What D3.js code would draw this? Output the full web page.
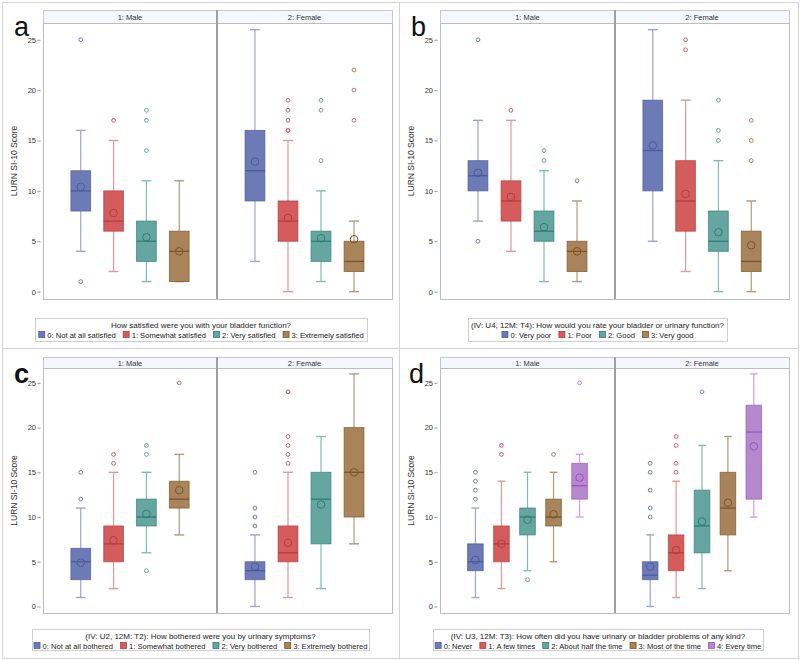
<!DOCTYPE html>
<html><head><meta charset="utf-8">
<script src="https://cdn.jsdelivr.net/npm/d3@7"></script>
<style>
body{margin:0;background:#fff;}
text{font-family:"Liberation Sans",Arial,sans-serif;}
</style></head>
<body><svg id="chart" width="800" height="660"></svg>
<script>
// ---------------- DATA ----------------
const facets = ["1: Male", "2: Female"];
const yTicks = [0, 5, 10, 15, 20, 25];
const colorsFill = ["#6c7bb5", "#d45c5c", "#66a6a0", "#a9845a", "#b689cd"];
const colorsLine = ["#4a5a9c", "#b53d3d", "#2d7d76", "#7a5527", "#9c52c8"];
const colorsWhisk = ["#9aa4d2", "#e09898", "#80bcb6", "#b09a7c", "#d09ef0"];

// box stats: [lowWhisker, q1, median, q3, highWhisker, mean]
const catsA = ["0: Not at all satisfied", "1: Somewhat satisfied", "2: Very satisfied", "3: Extremely satisfied"];
const titleA = "How satisfied  were you with your bladder function?";
const statsA_M = [[4,8,10,12,16,10.4],[2,6,7,10,15,7.8],[1,3,5,7,11,5.4],[1,1,4,6,11,4.0]];
const outA_M = [[25,1],[17],[14,17,18],[]];
const statsA_F = [[3,9,12,16,26,12.9],[0,5,7,9,15,7.3],[1,3,5,6,10,5.3],[0,2,3,5,7,5.2]];
const outA_F = [[],[16,16,17,18,19],[13,18,19],[17,20,22]];

const catsB = ["0: Very poor", "1: Poor", "2: Good", "3: Very good"];
const titleB = "(IV: U4, 12M: T4): How would you rate your bladder or urinary function?";
const statsB_M = [[7,10,11.5,13,17,11.8],[4,7,9,11,17,9.4],[1,5,6,8,12,6.4],[1,2,4,5,9,4.0]];
const outB_M = [[25,5],[18],[13,14],[11]];
const statsB_F = [[5,10,14,19,26,14.5],[2,6,9,13,19,9.7],[0,4,5,8,13,5.9],[0,2,3,6,9,4.6]];
const outB_F = [[],[24,25],[15,16,19],[13,15,17]];

const catsC = ["0: Not at all bothered", "1: Somewhat bothered", "2: Very bothered", "3: Extremely bothered"];
const titleC = "(IV: U2, 12M: T2): How bothered were you by urinary symptoms?";
const statsC_M = [[1,3,5,6.5,11,4.9],[2,5,7,9,15,7.4],[6,9,10,12,15,10.35],[8,11,12,14,17,13.0]];
const outC_M = [[12,15],[16,17],[4,17,18],[25]];
const statsC_F = [[0,3,4,5,8,4.45],[1,5,6,9,15,7.1],[2,7,12,15,19,11.4],[7,10,15,20,26,15.0]];
const outC_F = [[9,10,11,15],[16,17,18,19,24],[],[]];

const catsD = ["0: Never", "1: A few times", "2: About half the time", "3: Most of the time", "4: Every time"];
const titleD = "(IV: U3, 12M: T3): How often did you have urinary or bladder problems of any kind?";
const statsD_M = [[1,4,5,7,11,5.2],[2,5,7,9,14,7.0],[4,8,10,11,15,9.7],[5,9,10,12,15,10.3],[10,12,13.5,16,17,14.4]];
const outD_M = [[12,13,14,15],[17,18],[3],[17],[25]];
const statsD_F = [[0,3,3.5,5,8,4.45],[1,4,6,8,14,6.3],[2,6,9,13,18,9.5],[4,8,11,15,19,11.6],[10,12,19.5,22.5,26,17.9]];
const outD_F = [[10,11,13,15,16],[15,16,18,19],[24],[],[]];

// ---------------- DRAWING ----------------
const svg = d3.select("#chart");
const yDomain = [-0.73, 26.66];

// panel frames
const frames = [[2,2,397,346],[399,2,399,346],[2,348,397,310],[399,348,399,310]];
svg.selectAll("rect.frame").data(frames).enter().append("rect")
  .attr("x", d=>d[0]+0.5).attr("y", d=>d[1]+0.5).attr("width", d=>d[2]).attr("height", d=>d[3])
  .attr("fill","none").attr("stroke","#d4d4d4").attr("stroke-width",1);

function drawPanel(L, cats, title, stats, outs, letter, bold) {
  const g = svg.append("g");
  const y = d3.scaleLinear().domain(yDomain).range([L.bottom, L.top]);
  const n = cats.length;
  const pad = n === 4 ? 1.15 : 1.36;

  // header strips
  const fx = [[L.left, L.mid], [L.mid, L.right]];
  fx.forEach((r, i) => {
    g.append("rect").attr("x", r[0]+0.5).attr("y", L.htop+0.5).attr("width", r[1]-r[0]).attr("height", L.top-L.htop)
      .attr("fill", "#f4f7fd").attr("stroke", "#c8c8c8");
    g.append("text").attr("x", (r[0]+r[1])/2).attr("y", L.htop + (L.top-L.htop)/2 + 3)
      .attr("text-anchor","middle").attr("font-size", 7.5).attr("fill","#333").text(facets[i]);
  });
  // plot frame
  g.append("rect").attr("x", L.left+0.5).attr("y", L.top+0.5).attr("width", L.right-L.left).attr("height", L.bottom-L.top)
    .attr("fill","#fff").attr("stroke","#bdbdbd");
  g.append("line").attr("x1", L.mid).attr("x2", L.mid).attr("y1", L.htop).attr("y2", L.bottom)
    .attr("stroke","#a0a0a0").attr("stroke-width",2);

  // y axis
  const ax = g.append("g").attr("transform", `translate(${L.left-2.5},0)`)
    .call(d3.axisLeft(y).tickValues(yTicks).tickSize(3).tickPadding(1.5));
  ax.select(".domain").remove();
  ax.selectAll(".tick line").attr("stroke","#999");
  ax.selectAll(".tick text").attr("font-size",7.5).attr("fill","#333").attr("font-family","Liberation Sans, Arial, sans-serif");
  g.append("text").attr("transform", `translate(${L.ylabX},${(L.top+L.bottom)/2}) rotate(-90)`)
    .attr("text-anchor","middle").attr("font-size",8.5).attr("fill","#333").text("LURN SI-10 Score");

  // panel letter
  g.append("text").attr("x", L.letX).attr("y", L.letY).attr("font-size", 27)
    .attr("font-weight", bold ? "bold" : "normal").attr("fill","#111").text(letter);

  // boxes
  [0,1].forEach(fi => {
    const x = d3.scalePoint().domain(cats).range(fx[fi]).padding(pad);
    const bw = x.step() * 0.6;
    const cw = bw * 0.5;
    cats.forEach((c, ci) => {
      const s = stats[fi][ci];
      const cx = x(c);
      const wc = colorsWhisk[ci], lc = colorsLine[ci], fc = colorsFill[ci];
      const bg = g.append("g");
      // whiskers
      bg.append("line").attr("x1",cx).attr("x2",cx).attr("y1",y(s[0])).attr("y2",y(s[1])).attr("stroke",wc).attr("stroke-width",1.2);
      bg.append("line").attr("x1",cx).attr("x2",cx).attr("y1",y(s[3])).attr("y2",y(s[4])).attr("stroke",wc).attr("stroke-width",1.2);
      bg.append("line").attr("x1",cx-cw/2).attr("x2",cx+cw/2).attr("y1",y(s[0])).attr("y2",y(s[0])).attr("stroke",wc).attr("stroke-width",1.4);
      bg.append("line").attr("x1",cx-cw/2).attr("x2",cx+cw/2).attr("y1",y(s[4])).attr("y2",y(s[4])).attr("stroke",wc).attr("stroke-width",1.4);
      // box
      bg.append("rect").attr("x",cx-bw/2).attr("y",y(s[3])).attr("width",bw).attr("height",Math.max(0.5,y(s[1])-y(s[3])))
        .attr("fill",fc).attr("stroke",lc).attr("stroke-opacity",0.7).attr("stroke-width",1);
      // median
      bg.append("line").attr("x1",cx-bw/2).attr("x2",cx+bw/2).attr("y1",y(s[2])).attr("y2",y(s[2])).attr("stroke",lc).attr("stroke-width",1.3);
      // mean
      bg.append("circle").attr("cx",cx).attr("cy",y(s[5])).attr("r",3.8).attr("fill","none").attr("stroke",lc).attr("stroke-width",1);
      // outliers
      bg.selectAll("circle.out").data(outs[fi][ci]).enter().append("circle").attr("class","out")
        .attr("cx",cx).attr("cy",d=>y(d)).attr("r",1.9).attr("fill","none").attr("stroke",fc).attr("stroke-width",1);
    });
  });

  // legend
  const lg = g.append("g");
  lg.append("rect").attr("x",L.lx0+0.5).attr("y",L.ly0+0.5).attr("width",L.lx1-L.lx0).attr("height",L.lh)
    .attr("fill","#fff").attr("stroke","#cfcfcf");
  lg.append("text").attr("x",(L.lx0+L.lx1)/2).attr("y",L.ly0+9.5).attr("text-anchor","middle")
    .attr("font-size",8).attr("fill","#222").text(title);
  const items = lg.append("g");
  let cx = 0;
  cats.forEach((c, ci) => {
    items.append("rect").attr("x",cx+0.5).attr("y",L.ly0+13.5).attr("width",6).attr("height",6)
      .attr("fill",colorsFill[ci]).attr("stroke",colorsLine[ci]).attr("stroke-width",0.8);
    const t = items.append("text").attr("x",cx+9).attr("y",L.ly0+19.5).attr("font-size",7.6).attr("fill","#222").text(c);
    cx += 9 + t.node().getComputedTextLength() + 7;
  });
  const tw = cx - 7;
  items.attr("transform",`translate(${(L.lx0+L.lx1)/2 - tw/2},0)`);
}

const LA = {left:43,right:392,mid:217,htop:10,top:23,bottom:299,ylabX:17,letX:14,letY:36,lx0:35,lx1:367,ly0:318,lh:23};
const LB = {left:440,right:789,mid:615,htop:10,top:23,bottom:299,ylabX:414,letX:411,letY:36,lx0:468,lx1:727,ly0:318,lh:23};
const LC = {left:43,right:392,mid:217,htop:357,top:368,bottom:613,ylabX:17,letX:14,letY:383,lx0:32,lx1:369,ly0:629,lh:21};
const LD = {left:440,right:789,mid:615,htop:357,top:368,bottom:613,ylabX:414,letX:409,letY:383,lx0:433,lx1:763,ly0:629,lh:21};

drawPanel(LA, catsA, titleA, [statsA_M, statsA_F], [outA_M, outA_F], "a", false);
drawPanel(LB, catsB, titleB, [statsB_M, statsB_F], [outB_M, outB_F], "b", false);
drawPanel(LC, catsC, titleC, [statsC_M, statsC_F], [outC_M, outC_F], "c", true);
drawPanel(LD, catsD, titleD, [statsD_M, statsD_F], [outD_M, outD_F], "d", false);
</script></body></html>
